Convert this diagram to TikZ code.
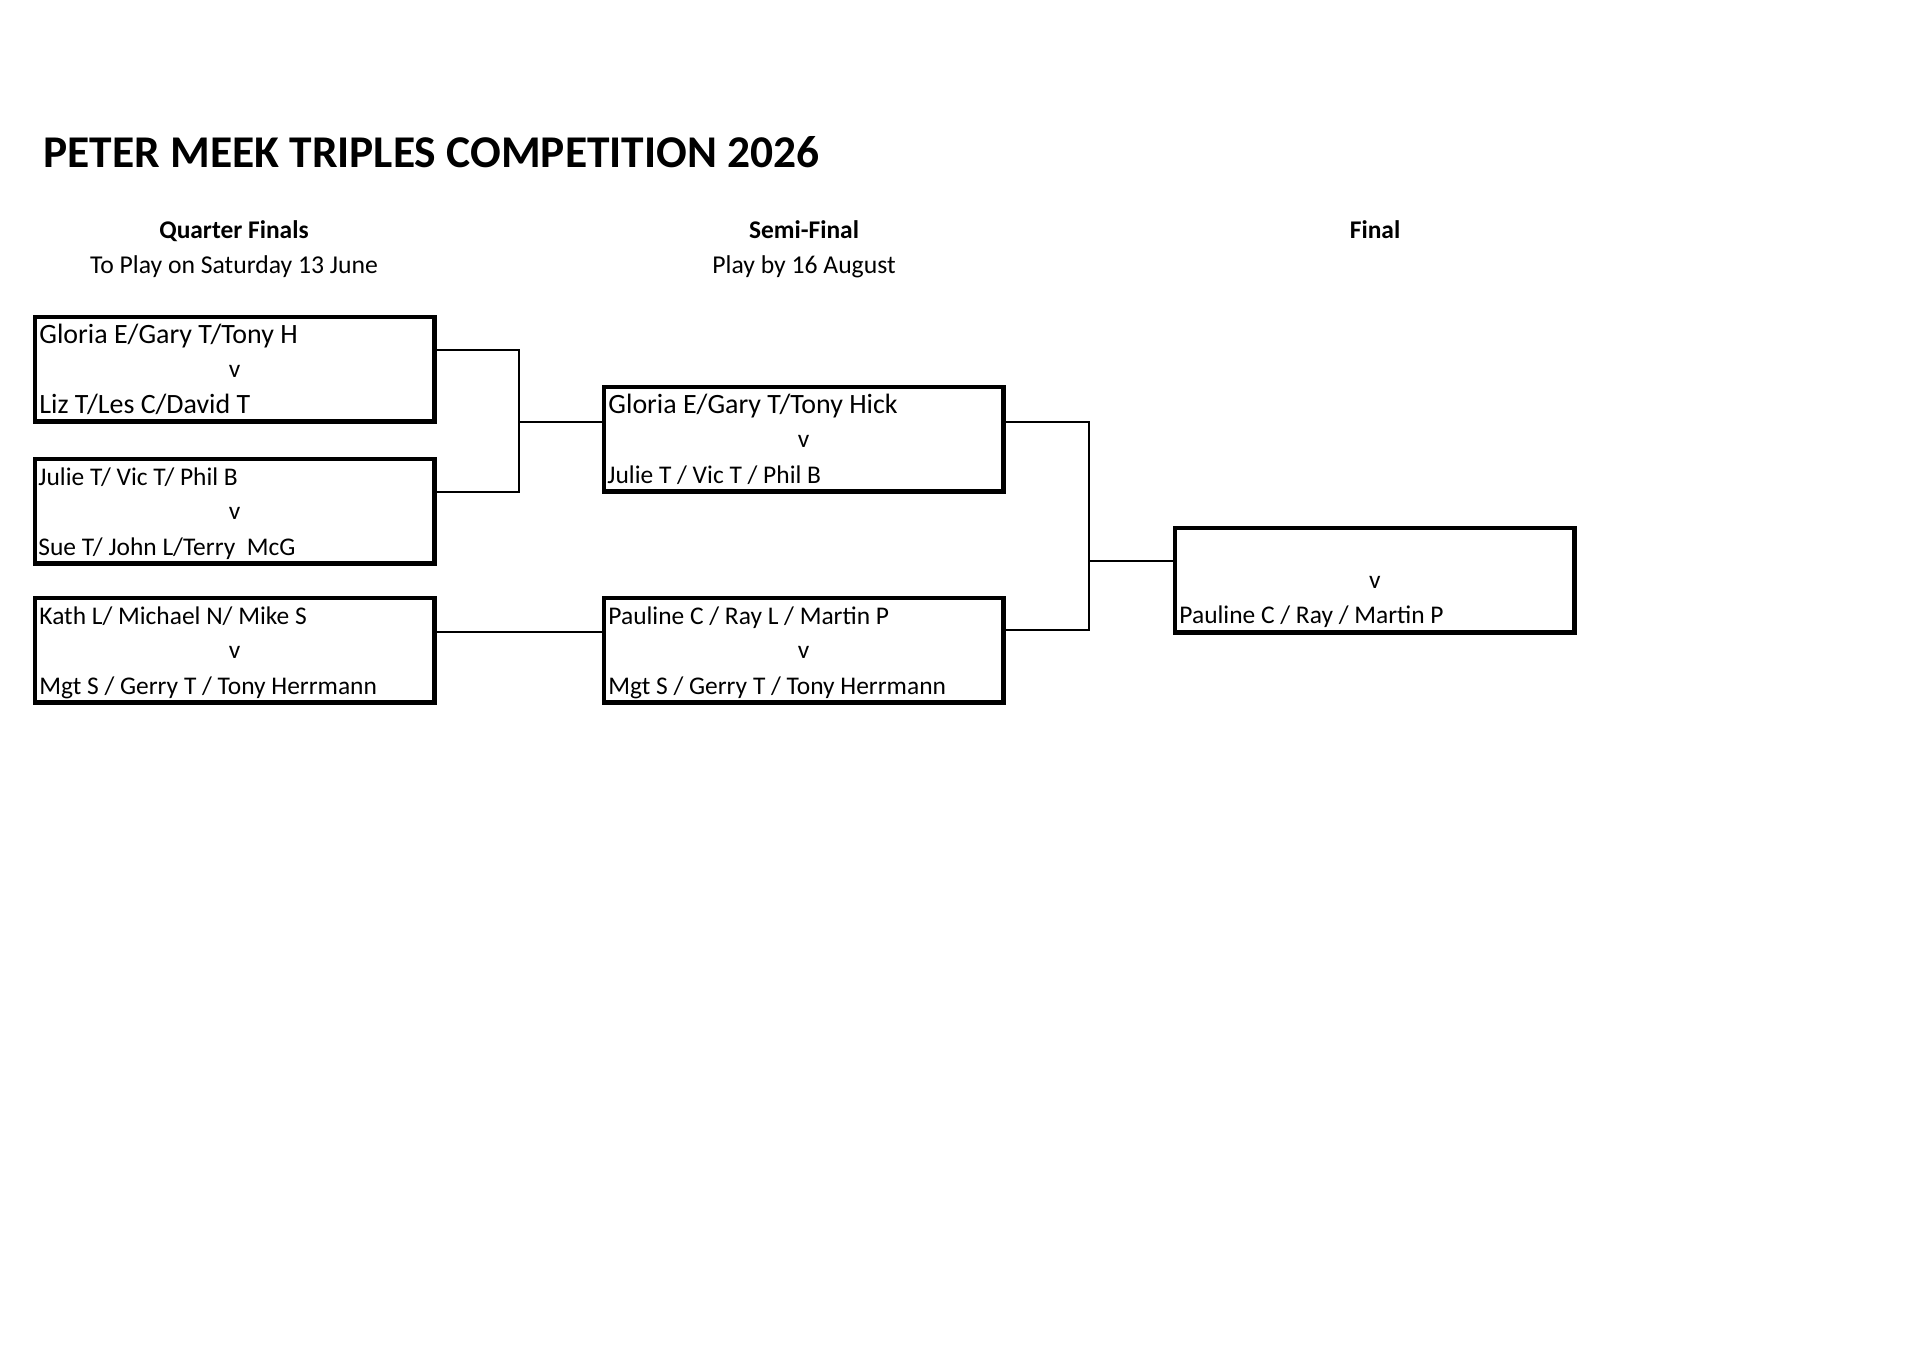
\documentclass[tikz,border=0pt]{standalone}
\usepackage{fontspec}
\setmainfont{Carlito}
\usetikzlibrary{positioning,calc}
\tikzset{match/.style={draw,line width=1.8pt,anchor=north west,minimum width=175.8pt,minimum height=46pt,inner sep=0pt,outer sep=0pt},
  link/.style={line width=0.75pt},
  team/.style={anchor=base west,inner sep=0pt,font=\fontsize{11.2}{13}\selectfont},
  big/.style={font=\fontsize{12.3}{14}\selectfont},
  vs/.style={anchor=base,inner sep=0pt,font=\fontsize{11.2}{13}\selectfont},
  head/.style={anchor=base,inner sep=0pt,font=\fontsize{11.2}{13}\selectfont\bfseries},
  sub/.style={anchor=base,inner sep=0pt,font=\fontsize{11.3}{13}\selectfont}}

\begin{document}
\begin{tikzpicture}[x=0.4401pt,y=-0.4401pt]
\path[use as bounding box,fill=white](0,0)rectangle(1920,1357);
\node[anchor=base west,inner sep=0pt,font=\fontsize{20}{24}\selectfont\bfseries] (title) at (43,167) {PETER MEEK TRIPLES COMPETITION 2026};
% round headings
\node[head] (h-qf) at (234,238) {Quarter Finals};
\node[sub] (d-qf) at (234,273) {To Play on Saturday 13 June};
\node[head] (h-sf) at (804,238) {Semi-Final};
\node[sub] (d-sf) at (804,273) {Play by 16 August};
\node[head] (h-f) at (1375,238) {Final};
% quarter finals
\node[match] (qa) at (35,317) {};
\node[match] (qb) at (35,459) {};
\node[match] (qc) at (35,598) {};
\node[team,big] (qa-a) at ([shift={(4,26)}]qa.north west) {Gloria E/Gary T/Tony H};
\node[vs] (qa-v) at ([shift={(0,60)}]qa.north) {v};
\node[team,big] (qa-b) at ([shift={(4,96)}]qa.north west) {Liz T/Les C/David T};
\node[team] (qb-a) at ([shift={(3,26)}]qb.north west) {Julie T/ Vic T/ Phil B};
\node[vs] (qb-v) at ([shift={(0,60)}]qb.north) {v};
\node[team] (qb-b) at ([shift={(3,96)}]qb.north west) {Sue T/ John L/Terry\ \ McG};
\node[team] (qc-a) at ([shift={(4,26)}]qc.north west) {Kath L/ Michael N/ Mike S};
\node[vs] (qc-v) at ([shift={(0,60)}]qc.north) {v};
\node[team] (qc-b) at ([shift={(4,96)}]qc.north west) {Mgt S / Gerry T / Tony Herrmann};
% semi finals
\node[match] (sa) at (604,387) {};
\node[match] (sb) at (604,598) {};
\node[team,big] (sa-a) at ([shift={(4,26)}]sa.north west) {Gloria E/Gary T/Tony Hick};
\node[vs] (sa-v) at ([shift={(0,60)}]sa.north) {v};
\node[team] (sa-b) at ([shift={(3,96)}]sa.north west) {Julie T / Vic T / Phil B};
\node[team] (sb-a) at ([shift={(4,26)}]sb.north west) {Pauline C / Ray L / Martin P};
\node[vs] (sb-v) at ([shift={(0,60)}]sb.north) {v};
\node[team] (sb-b) at ([shift={(4,96)}]sb.north west) {Mgt S / Gerry T / Tony Herrmann};
% final
\node[match] (fin) at (1175,528) {};
\node[vs] (fin-v) at ([shift={(0,60)}]fin.north) {v};
\node[team] (fin-b) at ([shift={(4,95)}]fin.north west) {Pauline C / Ray / Martin P};
% bracket lines
\coordinate (ja) at (519,422);
\coordinate (jb) at (1089,561);
\coordinate (qc-out) at ([shift={(0,34)}]qc.north east);
\draw[link] ([shift={(0,33)}]qa.north east) -| (ja) |- ([shift={(0,33)}]qb.north east);
\draw[link] (ja) -- (ja -| sa.west);
\draw[link] (qc-out) -- (qc-out -| sb.west);
\draw[link] ([shift={(0,35)}]sa.north east) -| (jb) |- ([shift={(0,32)}]sb.north east);
\draw[link] (jb) -- (jb -| fin.west);
\end{tikzpicture}
\end{document}
